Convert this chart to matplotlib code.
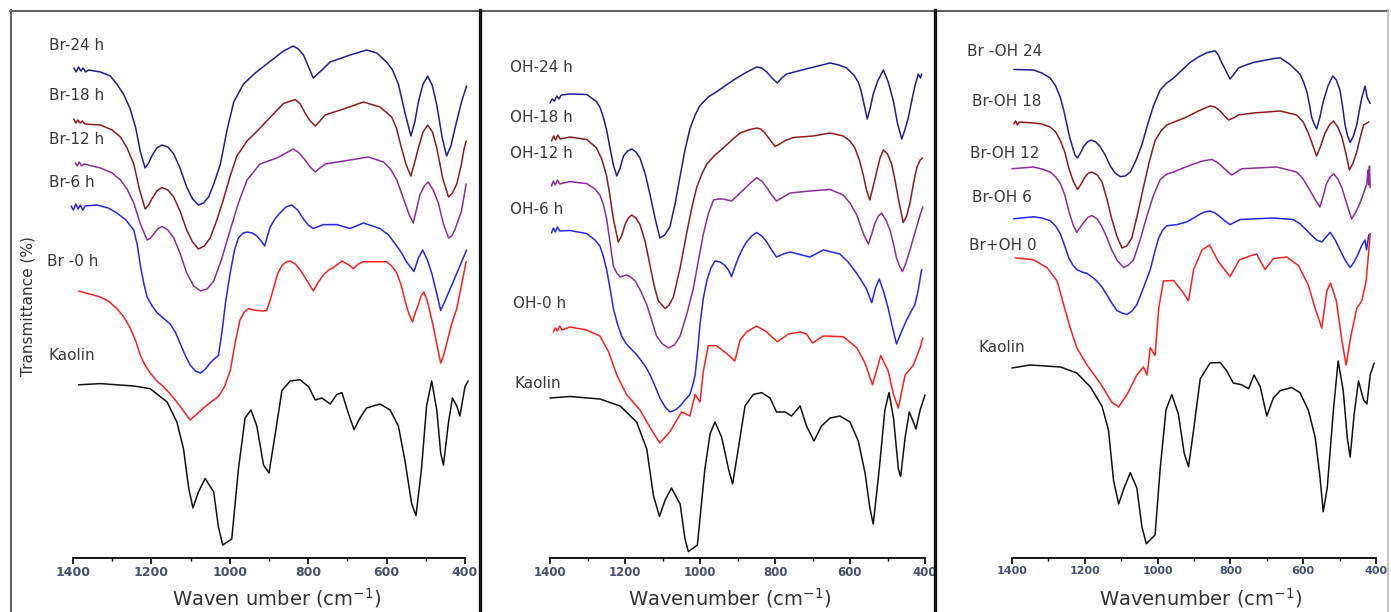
import matplotlib
matplotlib.use("Agg")
import matplotlib.pyplot as plt
from matplotlib.lines import Line2D
from matplotlib.ticker import MultipleLocator

W, H = 1391, 612

# ---- panel 1 : Br series (wavenumber, depth) ----
br24_wn = [1398, 1392, 1386, 1380, 1374, 1368, 1360, 1330, 1305, 1288, 1270, 1254, 1240, 1228, 1216, 1207, 1199, 1186,
           1173, 1158, 1143, 1127, 1110, 1095, 1080, 1067, 1054, 1040, 1024, 1007, 990, 965, 935, 906, 863, 838, 825,
           812, 798, 787, 765, 744, 693, 651, 625, 600, 585, 570, 553, 538, 528, 519, 507, 495, 483, 472, 458, 447,
           436, 426, 409, 396]
br24_y = [68, 72, 67, 71, 68, 72, 70, 72, 76, 84, 95, 109, 128, 152, 168, 163, 156, 148,
          145, 147, 154, 168, 187, 199, 205, 203, 197, 183, 164, 130, 102, 84, 73, 64, 51, 46, 49,
          55, 68, 78, 70, 62, 55, 50, 53, 62, 70, 84, 113, 136, 122, 102, 84, 76, 86, 105, 138, 156,
          146, 129, 102, 86]

br18_wn = [1398, 1393, 1388, 1382, 1376, 1370, 1330, 1300, 1279, 1262, 1245, 1230, 1216, 1207, 1199, 1186, 1173, 1158,
           1143, 1127, 1110, 1095, 1080, 1065, 1050, 1033, 1016, 999, 982, 956, 930, 906, 863, 833, 820, 808, 795, 782,
           770, 757, 710, 659, 617, 587, 575, 562, 550, 538, 528, 519, 507, 495, 483, 472, 457, 442, 432, 421,
           409, 403, 397]
br18_y = [119, 123, 120, 123, 121, 124, 125, 130, 137, 148, 164, 190, 209, 205, 199, 191, 187.5, 190,
          197, 211, 230, 242, 249, 246, 238, 220, 199, 176, 156, 141, 131, 121, 103.5, 99.6, 104, 113, 121, 126,
          121, 115, 109, 102, 107, 117, 128, 148, 165, 176, 162, 148, 132, 125, 132, 148, 178, 197, 193, 184,
          164, 150, 141]

br12_wn = [1394, 1389, 1384, 1378, 1372, 1330, 1300, 1279, 1262, 1245, 1228, 1211, 1202, 1194, 1184, 1173, 1158, 1143,
           1127, 1110, 1092, 1075, 1058, 1041, 1020, 999, 978, 956, 923, 880, 838, 823, 808, 795, 782, 770, 757, 693,
           646, 608, 590, 574, 553, 542, 532, 523, 515, 504, 494, 481, 468, 455, 442, 434, 426, 409, 397]
br12_y = [163, 166, 162, 166, 164, 168, 173, 180, 189, 203, 224, 240, 238, 234, 229, 226.5, 230, 238,
          253, 273, 286, 291, 289, 281, 258, 230, 203, 180, 164, 158, 149, 153, 160, 167, 172, 168, 164, 160,
          157, 162, 169, 180, 203, 215, 223, 208, 195, 186, 182, 190, 203, 224, 238, 236, 230, 211, 184]

br6_wn = [1405, 1399, 1393, 1387, 1381, 1375, 1369, 1339, 1310, 1288, 1265, 1245, 1236, 1228, 1219, 1211, 1198, 1186,
          1170, 1152, 1139, 1126, 1113, 1101, 1088, 1075, 1062, 1050, 1040, 1029, 1020, 1010, 999, 988, 978, 966, 956,
          943, 931, 920, 911, 904, 897, 885, 872, 857, 842, 827, 812, 800, 787, 761, 727, 693, 659, 617, 595, 574,
          560, 549, 530, 519, 508, 496, 485, 473, 462, 450, 438, 413, 396]
br6_y = [206, 210, 204, 209, 205, 210, 206, 205, 208, 213, 220, 230, 245, 266, 284, 297, 306, 312.5,
         318, 324, 332, 344, 356, 365, 371, 373, 369, 363, 359, 355.5, 332, 300, 273, 250, 238, 233, 232,
         233, 236, 241, 246, 236, 227, 219, 213, 207, 205, 210, 219, 225, 228.5, 224.6, 224.6, 228.5, 223, 228.5, 235, 246,
         254, 262, 271.5, 258, 250, 260, 273, 292, 310.5, 300, 289, 266, 250]

br0_wn = [1386, 1330, 1310, 1288, 1270, 1254, 1240, 1228, 1215, 1203, 1186, 1169, 1152, 1135, 1118, 1101, 1084, 1067,
          1048, 1029, 1014, 999, 986, 974, 963, 952, 940, 927, 916, 906, 897, 889, 878, 867, 856, 846, 833, 821, 804,
          787, 774, 761, 748, 736, 714, 693, 685, 672, 659, 600, 587, 574, 563, 553, 543, 534, 527, 519, 512, 505,
          497, 489, 480, 472, 462, 455, 447, 434, 421, 397]
br0_y = [291, 297, 301, 308.6, 317, 328, 341, 355.5, 366, 373, 381, 386.7, 394, 402, 411, 420, 414, 408,
         402, 396.5, 387, 371, 342, 320, 312, 308.6, 310, 310.5, 311, 310.5, 300, 289, 274, 265.6, 262, 261, 264, 269.5, 280,
         291, 282, 275, 270, 267.6, 261, 265.6, 268.75, 264, 261.7, 261.7, 266, 273, 285, 300.8, 314, 322, 313, 304.7, 296, 292,
         300, 312.5, 328, 344, 363, 356, 344, 324, 308.6, 261.7]

kaol1_wn = [1386, 1330, 1245, 1203, 1160, 1135, 1118, 1105, 1094, 1080, 1063, 1041, 1029, 1018, 995, 978, 961,
            946, 931, 914, 900, 884, 867, 846, 821, 799, 782, 765, 744, 727, 714, 697, 683, 668, 651, 617, 591,
            570, 553, 536, 525, 511, 498, 485, 472, 462, 455, 442, 432, 421, 413, 400, 392]
kaol1_y = [384.8, 383.6, 386, 388.7, 402, 422, 449, 488, 508, 492, 478.5, 492, 527, 545, 539, 469, 418,
           410, 426, 465, 473, 433.6, 390.6, 381, 379.7, 386.7, 400, 398, 404, 394.5, 392.6, 414, 429.7, 418, 408, 404,
           410, 426, 461, 504, 515.6, 469, 406, 381, 410, 453, 465, 422, 398, 406, 416, 386.7, 381]

# ---- panel 2 : OH series ----
oh24_wn = [1400, 1394, 1388, 1382, 1376, 1370, 1347, 1302, 1276, 1266, 1258, 1249, 1240, 1231, 1222, 1213, 1204, 1193,
           1182, 1171, 1160, 1146, 1133, 1120, 1107, 1094, 1080, 1066, 1053, 1040, 1027, 1013, 1000, 978, 956, 930,
           902, 875, 849, 835, 822, 808, 794, 782, 769, 707, 653, 630, 609, 590, 578, 571, 564, 554, 546, 538, 525,
           511, 498, 484, 473, 462, 453, 444, 435, 427, 418, 412, 409]
oh24_y = [103, 99, 101, 96, 99, 95, 94, 94.5, 101.6, 108, 117, 130, 148, 165, 176, 168, 156, 151,
          149, 152, 158, 174, 195, 218, 238, 235, 226.5, 203, 176, 150, 129, 115, 105.5, 97, 91.8, 85,
          78, 72, 67, 68, 72, 78, 83, 78, 74, 68, 63, 65, 68, 75, 82, 90, 101.6, 119, 108, 94, 80,
          70, 82, 101.6, 124, 139, 129, 117, 100, 86, 74, 78, 74]

oh18_wn = [1396, 1390, 1385, 1379, 1373, 1347, 1302, 1276, 1262, 1249, 1240, 1231, 1218, 1209, 1200, 1191, 1182, 1171,
           1160, 1146, 1133, 1122, 1111, 1093, 1082, 1071, 1053, 1036, 1022, 1009, 995, 982, 960, 938, 915, 893, 871,
           849, 838, 827, 813, 800, 787, 773, 751, 698, 653, 618, 600, 587, 575, 564, 556, 547, 538, 529, 520, 511,
           500, 489, 480, 471, 458, 449, 440, 431, 422, 413, 406]
oh18_y = [141, 136, 140, 135, 139, 137, 139.5, 148, 159, 176, 196, 219, 242, 236, 224.6, 218, 215, 218,
          224.6, 242, 266, 286, 301, 308.6, 305, 297, 268, 234, 208, 187.5, 174, 164, 155, 148, 140, 133, 130,
          128, 129, 133, 140, 146.5, 144, 140.6, 137.5, 136, 133, 136, 141, 148, 160, 176, 190, 200, 186, 172, 158, 150,
          154, 164, 180, 199, 222.6, 216, 203, 184, 168, 160, 158]

oh12_wn = [1396, 1391, 1386, 1380, 1374, 1347, 1302, 1280, 1267, 1258, 1249, 1240, 1231, 1222, 1213, 1196, 1185, 1173,
           1158, 1142, 1129, 1116, 1100, 1084, 1068, 1053, 1036, 1018, 1004, 991, 978, 964, 951, 938, 916, 893, 871,
           849, 835, 822, 809, 796, 778, 760, 707, 653, 618, 600, 582, 564, 551, 542, 533, 524, 516, 504, 493, 484,
           476, 468, 460, 450, 440, 431, 422, 413, 406]
oh12_y = [186, 181, 185, 180, 184, 181.6, 183.6, 189, 195, 204, 219, 242, 266, 273, 277, 275, 277, 281,
          291, 304.7, 320, 336, 344, 348, 345, 336, 315, 289, 260, 234, 214, 200, 199, 199, 201, 193, 185,
          177.7, 181, 187.5, 195, 201, 197, 193, 191, 189.5, 195, 203, 215, 234, 244, 234, 222.6, 216, 213, 220, 230.5, 244,
          258, 266, 271.5, 262, 250, 238, 226.5, 215, 207]

oh6_wn = [1396, 1391, 1386, 1380, 1374, 1347, 1302, 1280, 1267, 1258, 1249, 1240, 1231, 1220, 1209, 1198, 1187, 1173,
          1160, 1146, 1133, 1120, 1107, 1093, 1080, 1066, 1053, 1040, 1027, 1020, 1013, 1006, 1000, 991, 982, 971, 960,
          946, 933, 924, 916, 907, 898, 887, 876, 862, 849, 835, 822, 809, 796, 778, 760, 707, 671, 627, 605, 582,
          569, 556, 542, 532, 522, 510, 498, 487, 476, 462, 449, 438, 427, 418, 409]
oh6_y = [233, 228, 232, 227, 231, 230.5, 233.6, 240, 246, 256, 269.5, 288, 308.6, 324, 336, 343, 347.7, 353,
         359, 366, 375, 386, 398, 407, 412, 410, 406, 400, 394.5, 386, 375, 350, 324, 298, 281, 268, 261,
         262, 265.6, 270, 276.6, 267, 258, 249, 242, 236, 232.4, 236, 242, 250, 257, 254, 252, 257, 250, 254, 262, 273.4,
         281, 289, 302.7, 288, 279, 292, 308.6, 327, 344, 331, 320, 312, 304.7, 290, 269.5]

oh0_wn = [1391, 1386, 1380, 1374, 1368, 1347, 1302, 1267, 1244, 1222, 1196, 1160, 1129, 1107, 1080,
          1049, 1027, 1013, 1000, 991, 978, 956, 929, 907, 893, 876, 849, 822, 794, 764, 733, 716, 700, 671, 618,
          582, 560, 540, 518, 498, 484, 471, 453, 431, 413, 406]
oh0_y = [332, 328, 331, 326, 330, 327, 330, 336, 351.6, 375, 394.5, 410, 430, 443, 431.6,
         412, 416, 394.5, 402, 371, 345.7, 345.7, 353.5, 361, 340, 332, 326, 332, 341.8, 334, 332, 334, 343, 336, 336.7,
         347.7, 363, 384.8, 355.5, 371, 394.5, 408, 375, 365, 347.7, 338]

kaol2_wn = [1400, 1347, 1267, 1213, 1169, 1142, 1124, 1108, 1093, 1076, 1053, 1040, 1031, 1007, 987, 973, 960,
            942, 924, 913, 898, 880, 858, 836, 813, 796, 773, 756, 733, 716, 696, 676, 653, 627, 600, 578, 560,
            547, 538, 522, 507, 496, 484, 471, 465, 453, 442, 431, 424, 413, 400]
kaol2_y = [398, 396.5, 399, 406, 422, 449, 496, 516.4, 500, 488, 504, 539, 551.6, 545, 469, 433.6, 422,
           437.5, 469, 484, 449, 406, 394.5, 392.6, 398, 412, 412, 416, 406, 426, 441, 426, 418, 416, 422, 441, 472.6,
           508, 524, 469, 410, 392.6, 418, 469, 476.6, 437.5, 412, 422, 429, 410, 395]

# ---- panel 3 : Br-OH series ----
broh24_wn = [1395, 1341, 1318, 1295, 1280, 1267, 1258, 1249, 1241, 1233, 1227, 1220, 1212, 1203, 1193, 1183, 1170, 1158,
             1144, 1130, 1117, 1103, 1089, 1075, 1059, 1043, 1027, 1011, 993, 975, 956, 933, 911, 888, 865, 842, 833,
             824, 812, 801, 790, 778, 757, 737, 682, 663, 636, 609, 599, 590, 583, 577, 570, 563, 554, 545, 532, 519,
             509, 499, 492, 485, 478, 471, 462, 453, 446, 439, 430, 424, 416]
broh24_y = [69.5, 70, 73, 78, 86, 97.7, 110, 125, 138, 148, 155, 158, 153, 146.5, 142, 140, 142, 146.5,
            155, 166, 173, 176.6, 176, 172, 160, 144.5, 124, 105.5, 90, 83, 78, 70, 62.5, 57, 52.7, 50.8, 55,
            62.5, 71, 79, 74, 68, 65, 62.5, 58.6, 57.8, 64.5, 74, 82, 91.8, 104, 117, 124, 129, 117, 101.6, 86, 76,
            80, 90, 106, 125, 136, 142.6, 136, 125, 111, 97.7, 86, 97.7, 103.5]

broh18_wn = [1395, 1390, 1385, 1380, 1341, 1318, 1295, 1280, 1267, 1255, 1244, 1232, 1220, 1210, 1201, 1190, 1180, 1166,
             1153, 1140, 1126, 1112, 1098, 1085, 1071, 1055, 1039, 1023, 1007, 991, 975, 948, 920, 888, 856, 842, 828,
             816, 805, 792, 778, 737, 663, 618, 600, 586, 574, 563, 552, 540, 528, 517, 505, 494, 483, 473, 463,
             453, 443, 434, 420]
broh18_y = [124, 121, 125, 122, 123, 124, 127, 132, 140.6, 152, 168, 181, 189.5, 184, 177.7, 173, 172, 175,
            181.6, 198, 218.8, 236, 248, 246, 238, 214, 187.5, 162, 140.6, 131, 125, 121, 117, 111, 106, 107, 111,
            116, 120, 118, 115, 113, 111, 115, 122, 133, 145, 156, 146, 133, 125, 121, 127, 136.7, 153, 170, 163,
            152, 137, 125, 122]

broh12_wn = [1400, 1341, 1318, 1295, 1280, 1267, 1255, 1244, 1232, 1222, 1210, 1199, 1190, 1180, 1166, 1153, 1140, 1126,
             1110, 1093, 1080, 1066, 1048, 1030, 1012, 993, 975, 956, 930, 901, 876, 851, 838, 824, 810, 796, 783,
             769, 673, 618, 602, 586, 568, 554, 545, 536, 526, 516, 505, 494, 481, 467, 455, 444, 434, 425, 422,
             420, 418, 416]
broh12_y = [168.75, 167, 169, 172, 177, 183.6, 195, 211, 225, 232.4, 226, 220.7, 217, 215.6, 219, 226.6, 237, 250,
            261, 267.6, 265, 259.8, 240, 216.8, 196, 179.7, 174, 172, 168, 164, 161, 159.4, 162, 166, 171, 175, 172,
            168.75, 167, 172, 178, 187.5, 199, 207, 196, 183.6, 177, 173.8, 179, 187.5, 203, 218.75, 212, 203, 193,
            183.6, 170, 185, 166, 187.5]

broh6_wn = [1395, 1341, 1318, 1295, 1280, 1267, 1255, 1244, 1233, 1222, 1208, 1194, 1180, 1167, 1153, 1139, 1126, 1112,
            1098, 1084, 1070, 1057, 1038, 1020, 1008, 997, 986, 975, 947, 920, 901, 883, 870, 856, 842, 828, 815, 801,
            787, 773, 682, 627, 608, 590, 575, 563, 549, 537, 526, 512, 499, 485, 471, 460, 449, 440, 430, 426,
            420, 416]
broh6_y = [218.75, 216.8, 218, 220.7, 226, 234, 246, 257.8, 265, 269.5, 272, 273.4, 277, 281, 287, 295, 303, 310.5,
           313, 314.5, 311, 304.7, 287, 269.5, 252, 238, 230, 225.8, 224.6, 221.9, 218, 214, 212, 211, 213, 216.8, 221,
           224.6, 222, 219.5, 218, 219.5, 224, 230.5, 236, 240, 242, 237, 232.4, 240, 250, 260, 267.6, 262, 254, 246,
           240, 250, 235, 234]

broh0_wn = [1391, 1341, 1304, 1276, 1258, 1240, 1222, 1194, 1158, 1126, 1107, 1084, 1057, 1039, 1029, 1020,
            1007, 997, 984, 956, 933, 915, 901, 878, 857, 833, 801, 775, 746, 728, 705, 682, 645, 613, 586, 567,
            549, 535, 525, 509, 494, 482, 469, 453, 439, 427, 416]
broh0_y = [257.8, 259.8, 267.6, 281, 304.7, 328, 347.7, 365, 383, 402, 407, 394.5, 375, 367, 375, 347.7,
           355.5, 308.6, 281, 280.5, 291, 300.8, 269.5, 250, 245, 261.7, 276.6, 259.8, 255.9, 254, 269.5, 258.6, 257,
           265.6, 285, 308.6, 328, 291, 283, 300.8, 340, 365, 336, 308.6, 300.8, 281, 234]

kaol3_wn = [1400, 1350, 1267, 1222, 1185, 1153, 1135, 1121, 1107, 1092, 1075, 1057, 1043, 1031, 1007, 993, 977,
            961, 943, 927, 915, 901, 883, 856, 828, 810, 792, 769, 750, 735, 718, 700, 682, 663, 632, 609, 586,
            567, 554, 545, 534, 517, 504, 490, 479, 471, 460, 448, 434, 425, 416, 405]
kaol3_y = [368, 365, 367, 373, 386.7, 406, 430, 480.5, 504, 488, 472.6, 488, 527, 543.75, 535, 469, 410,
           394.5, 414, 453, 466.8, 429.7, 379, 363, 362.5, 371, 383, 384.8, 388.7, 375, 386.7, 416, 398, 390.6, 387.5,
           392.6, 410, 437.5, 476.6, 511.7, 488, 410, 361, 390.6, 437.5, 457, 414, 381, 400, 404, 375, 363]

labels1 = ["Br-24 h", "Br-18 h", "Br-12 h", "Br-6 h", "Br -0 h", "Kaolin"]
labels2 = ["OH-24 h", "OH-18 h", "OH-12 h", "OH-6 h", "OH-0 h", "Kaolin"]
labels3 = ["Br -OH 24", "Br-OH 18", "Br-OH 12", "Br-OH 6", "Br+OH 0", "Kaolin"]
xlabels = ["Waven umber (cm$^{-1}$)", "Wavenumber (cm$^{-1}$)", "Wavenumber (cm$^{-1}$)"]

colors = ["#1f1f94", "#8e1b1b", "#8c2c9c", "#2525f5", "#ff1e1e", "#111111"]

panels = [
    dict(curves=[(br24_wn, br24_y), (br18_wn, br18_y), (br12_wn, br12_y), (br6_wn, br6_y),
                 (br0_wn, br0_y), (kaol1_wn, kaol1_y)],
         labels=labels1, x0=73, x1=465,
         label_pos=[(49, 46), (49, 96), (49, 139), (49, 182), (47, 262), (48, 356)],
         xlab_x=277, tick_fs=9),
    dict(curves=[(oh24_wn, oh24_y), (oh18_wn, oh18_y), (oh12_wn, oh12_y), (oh6_wn, oh6_y),
                 (oh0_wn, oh0_y), (kaol2_wn, kaol2_y)],
         labels=labels2, x0=550, x1=925,
         label_pos=[(510, 68), (510, 118), (510, 153), (510, 210), (513, 304), (515, 384)],
         xlab_x=730, tick_fs=8.5),
    dict(curves=[(broh24_wn, broh24_y), (broh18_wn, broh18_y), (broh12_wn, broh12_y), (broh6_wn, broh6_y),
                 (broh0_wn, broh0_y), (kaol3_wn, kaol3_y)],
         labels=labels3, x0=1012, x1=1376,
         label_pos=[(967, 51), (972, 102), (970, 153), (972, 197), (969, 245), (979, 347)],
         xlab_x=1201, tick_fs=8),
]

fig = plt.figure(figsize=(W / 100, H / 100), dpi=100)
fig.patch.set_facecolor("white")

y_axis = 558
y_top = 15
bottom = 1 - y_axis / H
height = (y_axis - y_top) / H

for i, p in enumerate(panels):
    ax = fig.add_axes([p["x0"] / W, bottom, (p["x1"] - p["x0"]) / W, height])
    for (wn, yv), c in zip(p["curves"], colors):
        ax.plot(wn, yv, color=c, lw=1.1, clip_on=False,
                solid_joinstyle="round", solid_capstyle="round")
    ax.set_xlim(1400, 400)
    ax.set_ylim(y_axis, y_top)
    for s in ["top", "left", "right"]:
        ax.spines[s].set_visible(False)
    ax.spines["bottom"].set_linewidth(1.3)
    ax.set_yticks([])
    ax.xaxis.set_major_locator(MultipleLocator(200))
    ax.xaxis.set_minor_locator(MultipleLocator(100))
    ax.tick_params(axis="x", which="major", direction="out", length=4, width=1.2, pad=2,
                   labelsize=p["tick_fs"], labelcolor="#47506e")
    ax.tick_params(axis="x", which="minor", direction="out", length=2, width=1.0)
    for t in ax.get_xticklabels():
        t.set_fontweight("bold")
    ax.patch.set_alpha(0)

    for txt, (lx, ly) in zip(p["labels"], p["label_pos"]):
        fig.text(lx / W, 1 - ly / H, txt, fontsize=11, color="#3a3a3a", ha="left", va="center")
    fig.text(p["xlab_x"] / W, 1 - 598 / H, xlabels[i], fontsize=14, color="#333333",
             ha="center", va="center")

fig.text(28 / W, 1 - 306 / H, "Transmittance (%)", fontsize=11, color="#333333",
         rotation=90, ha="center", va="center")

# frame lines around the three panels
def fline(xs, ys, **kw):
    fig.add_artist(Line2D([x / W for x in xs], [1 - y / H for y in ys], **kw))

fline([10, 1388], [10.5, 10.5], color="#444444", lw=1.2)
fline([11, 11], [10, 612], color="#666666", lw=1.5)
fline([480, 480], [10, 612], color="#111111", lw=2.4)
fline([935, 935], [10, 612], color="#111111", lw=2.4)
fline([1388, 1388], [10, 612], color="#bbbbbb", lw=1.2)

fig.savefig("out.png", dpi=100)
